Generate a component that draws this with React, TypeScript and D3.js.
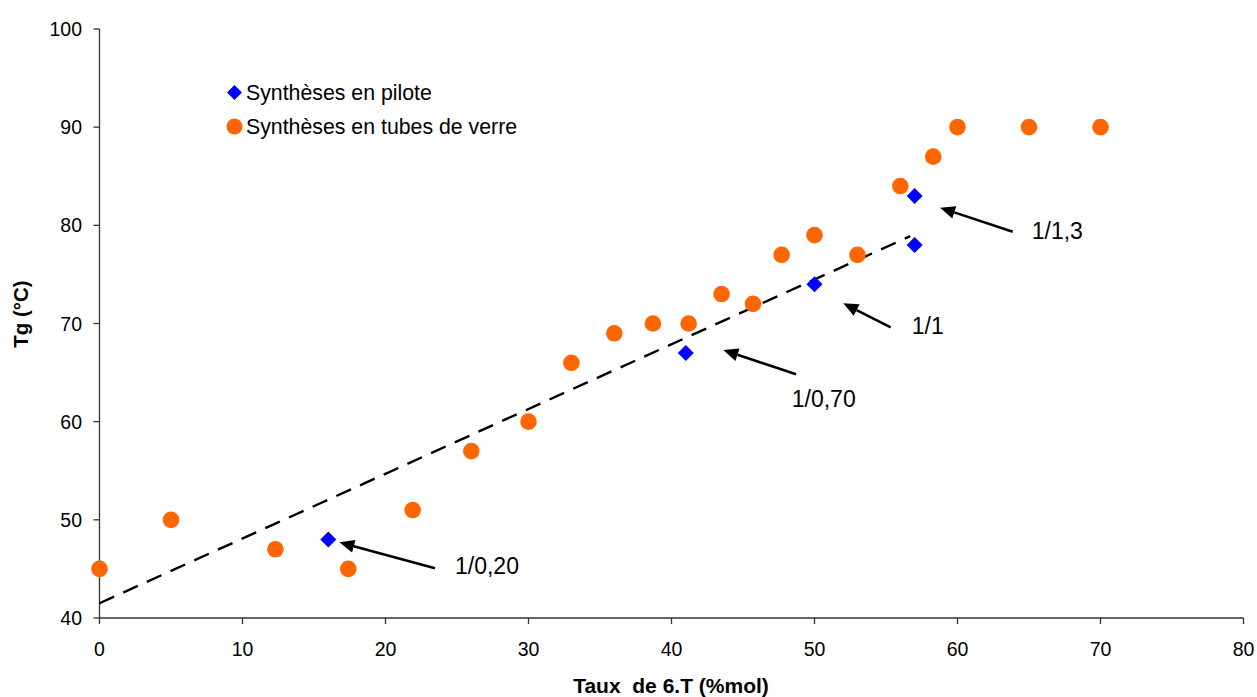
import React from "react";
import * as d3 from "d3";

const pilotX = [16, 41, 50, 57, 57];
const pilotY = [48, 67, 74, 83, 78];

const tubeX = [0, 5, 12.3, 17.4, 21.9, 26, 30, 33, 36, 38.7, 41.2, 43.5, 45.7, 47.7, 50, 53, 56, 58.3, 60, 65, 70];
const tubeY = [45, 50, 47, 45, 51, 57, 60, 66, 69, 70, 70, 73, 72, 77, 79, 77, 84, 87, 90, 90, 90];

const trendX = [0, 56.7];
const trendY = [41.5, 78.9];

const xTicks = [0, 10, 20, 30, 40, 50, 60, 70, 80];
const yTicks = [40, 50, 60, 70, 80, 90, 100];

const annLabels = ["1/1,3", "1/1", "1/0,70", "1/0,20"];
const annTail = [[63.86, 79.35], [55.33, 69.61], [48.71, 64.83], [23.46, 45.07]];
const annTip = [[58.78, 81.8], [52.01, 72.06], [43.62, 67.3], [16.77, 47.71]];
const annText = [[65.19, 78.61], [56.8, 68.93], [48.41, 61.49], [24.86, 44.48]];

const legendLabels = ["Synthèses en pilote", "Synthèses en tubes de verre"];

const W = 1257;
const H = 697;
const FONT = "'Liberation Sans', Arial, sans-serif";

export default function App() {
  const x = d3.scaleLinear().domain([0, 80]).range([99.5, 1243.5]);
  const y = d3.scaleLinear().domain([40, 100]).range([618, 29]);
  const axisColor = "#333";
  const line = d3.line<number>().x((_, i) => x(trendX[i])).y((d) => y(d));

  const arrows = annLabels.map((lab, i) => {
    const x1 = x(annTail[i][0]);
    const y1 = y(annTail[i][1]);
    const x2 = x(annTip[i][0]);
    const y2 = y(annTip[i][1]);
    const ang = Math.atan2(y2 - y1, x2 - x1);
    const len = 15;
    const hw = 6.5;
    const bx = x2 - len * Math.cos(ang);
    const by = y2 - len * Math.sin(ang);
    const px = -Math.sin(ang) * hw;
    const py = Math.cos(ang) * hw;
    return (
      <g key={lab}>
        <line x1={x1} y1={y1} x2={bx} y2={by} stroke="#000" strokeWidth={2.6} />
        <polygon points={`${x2},${y2} ${bx + px},${by + py} ${bx - px},${by - py}`} fill="#000" />
        <text x={x(annText[i][0])} y={y(annText[i][1])} fontSize={23} fontFamily={FONT} fill="#000">
          {lab}
        </text>
      </g>
    );
  });

  return (
    <svg width={W} height={H} style={{ position: "absolute", left: 0, top: 0, background: "#fff" }}>
      {/* axes */}
      <line x1={x(0)} y1={y(40)} x2={x(80)} y2={y(40)} stroke={axisColor} strokeWidth={1.3} />
      <line x1={x(0)} y1={y(40)} x2={x(0)} y2={y(100)} stroke={axisColor} strokeWidth={1.3} />
      {xTicks.map((t) => (
        <g key={"xt" + t}>
          <line x1={x(t)} x2={x(t)} y1={y(40)} y2={y(40) + 6} stroke={axisColor} strokeWidth={1.3} />
          <text x={x(t)} y={656} textAnchor="middle" fontSize={19.5} fontFamily={FONT} fill="#000">
            {t}
          </text>
        </g>
      ))}
      {yTicks.map((t) => (
        <g key={"yt" + t}>
          <line x1={x(0) - 6} x2={x(0)} y1={y(t)} y2={y(t)} stroke={axisColor} strokeWidth={1.3} />
          <text x={82} y={y(t) + 7} textAnchor="end" fontSize={19.5} fontFamily={FONT} fill="#000">
            {t}
          </text>
        </g>
      ))}
      <text x={671} y={693} textAnchor="middle" fontSize={21} fontWeight="bold" fontFamily={FONT} fill="#000" style={{ whiteSpace: "pre" }}>
        {"Taux  de 6.T (%mol)"}
      </text>
      <text transform={`translate(28,314) rotate(-90)`} textAnchor="middle" fontSize={20.5} fontWeight="bold" fontFamily={FONT} fill="#000">
        Tg (°C)
      </text>

      {/* trend line */}
      <path d={line(trendY) || ""} fill="none" stroke="#000" strokeWidth={2.4} strokeDasharray="16 10" />

      {/* tube points */}
      {tubeX.map((v, i) => (
        <circle key={"t" + i} cx={x(v)} cy={y(tubeY[i])} r={8.3} fill="#FF6600" />
      ))}
      {/* pilot points */}
      {pilotX.map((v, i) => {
        const cx = x(v);
        const cy = y(pilotY[i]);
        const s = 8;
        return <polygon key={"p" + i} points={`${cx},${cy - s} ${cx + s},${cy} ${cx},${cy + s} ${cx - s},${cy}`} fill="#0000FF" />;
      })}

      {arrows}

      {/* legend */}
      <polygon points="234.5,85 242,92.5 234.5,100 227,92.5" fill="#0000FF" />
      <text x={246} y={100} fontSize={21.3} fontFamily={FONT} fill="#000">{legendLabels[0]}</text>
      <circle cx={234.5} cy={126.5} r={8} fill="#FF6600" />
      <text x={246} y={134} fontSize={21.3} fontFamily={FONT} fill="#000">{legendLabels[1]}</text>
    </svg>
  );
}
